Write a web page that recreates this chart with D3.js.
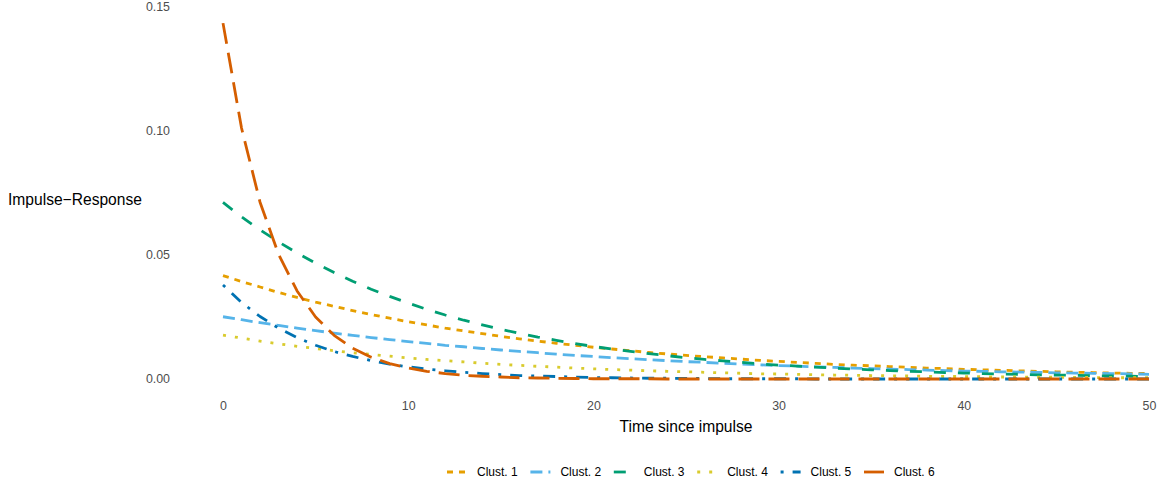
<!DOCTYPE html>
<html>
<head>
<meta charset="utf-8">
<script src="https://cdn.jsdelivr.net/npm/d3@7"></script>
<style>
  html, body { margin: 0; padding: 0; background: #ffffff; }
  svg { display: block; font-family: "Liberation Sans", Arial, Helvetica, sans-serif; }
</style>
</head>
<body>
<svg id="chart" width="1163" height="486"></svg>
<script>
// ---- data ----
const time = d3.range(0, 51);
const seriesNames = ["Clust. 1", "Clust. 2", "Clust. 3", "Clust. 4", "Clust. 5", "Clust. 6"];

const clust1 = [0.0417,0.0393,0.0371,0.0349,0.0329,0.0310,0.0293,0.0276,0.0260,0.0245,
  0.0231,0.0218,0.0205,0.0194,0.0183,0.0172,0.0162,0.0153,0.0144,0.0136,
  0.0128,0.0121,0.0114,0.0107,0.0101,0.0095,0.0090,0.0085,0.0080,0.0075,
  0.0071,0.0067,0.0063,0.0059,0.0056,0.0053,0.0050,0.0047,0.0044,0.0042,
  0.0039,0.0037,0.0035,0.0033,0.0031,0.0029,0.0027,0.0026,0.0024,0.0023,0.0022];
const clust2 = [0.0251,0.0239,0.0227,0.0216,0.0205,0.0195,0.0185,0.0176,0.0167,0.0159,
  0.0151,0.0144,0.0136,0.0130,0.0123,0.0117,0.0111,0.0106,0.0100,0.0095,
  0.0091,0.0086,0.0082,0.0078,0.0074,0.0070,0.0067,0.0063,0.0060,0.0057,
  0.0054,0.0052,0.0049,0.0047,0.0044,0.0042,0.0040,0.0038,0.0036,0.0034,
  0.0032,0.0031,0.0029,0.0028,0.0027,0.0025,0.0024,0.0023,0.0022,0.0021,0.0019];
const clust3 = [0.0712,0.0654,0.0601,0.0553,0.0508,0.0467,0.0429,0.0394,0.0362,0.0333,
  0.0306,0.0281,0.0258,0.0237,0.0218,0.0200,0.0184,0.0169,0.0156,0.0143,
  0.0131,0.0121,0.0111,0.0102,0.0094,0.0086,0.0079,0.0073,0.0067,0.0061,
  0.0056,0.0052,0.0048,0.0044,0.0040,0.0037,0.0034,0.0031,0.0029,0.0026,
  0.0024,0.0022,0.0020,0.0019,0.0017,0.0016,0.0015,0.0013,0.0012,0.0011,0.0010];
const clust4 = [0.0177,0.0165,0.0153,0.0142,0.0132,0.0123,0.0114,0.0106,0.0099,0.0092,
  0.0085,0.0079,0.0074,0.0069,0.0064,0.0059,0.0055,0.0051,0.0048,0.0044,
  0.0041,0.0038,0.0036,0.0033,0.0031,0.0029,0.0027,0.0025,0.0023,0.0021,
  0.0020,0.0019,0.0017,0.0016,0.0015,0.0014,0.0013,0.0012,0.0011,0.0010,
  0.0010,0.0009,0.0008,0.0008,0.0007,0.0007,0.0006,0.0006,0.0005,0.0005,0.0005];
const clust5 = [0.0379,0.0309,0.0252,0.0205,0.0167,0.0136,0.0111,0.0091,0.0074,0.0060,
  0.0049,0.0040,0.0033,0.0027,0.0022,0.0018,0.0014,0.0012,0.0010,0.0008,
  0.0006,0.0005,0.0004,0.0003,0.0003,0.0002,0.0002,0.0001,0.0001,0.0001,
  0.0001,0.0001,0.0000,0.0000,0.0000,0.0000,0.0000,0.0000,0.0000,0.0000,
  0.0000,0.0000,0.0000,0.0000,0.0000,0.0000,0.0000,0.0000,0.0000,0.0000,0.0000];
const clust6 = [0.1435,0.1012,0.0713,0.0503,0.0355,0.0250,0.0176,0.0124,0.0088,0.0062,
  0.0044,0.0031,0.0022,0.0015,0.0011,0.0008,0.0005,0.0004,0.0003,0.0002,
  0.0001,0.0001,0.0001,0.0001,0.0000,0.0000,0.0000,0.0000,0.0000,0.0000,
  0.0000,0.0000,0.0000,0.0000,0.0000,0.0000,0.0000,0.0000,0.0000,0.0000,
  0.0000,0.0000,0.0000,0.0000,0.0000,0.0000,0.0000,0.0000,0.0000,0.0000,0.0000];

const xTicks = [0, 10, 20, 30, 40, 50];
const yTicks = [0.00, 0.05, 0.10, 0.15];
const xTitle = "Time since impulse";
const yTitle = "Impulse\u2212Response";

// ---- styles ----
const colors = ["#E69F00", "#56B4E9", "#009E73", "#D9CB2E", "#0072B2", "#D55E00"];
const dashes = ["6,6", "12,6", "12,12", "3,9", "3,9,12,9", "21,9"];
const lineW = 2.8;

const allSeries = [clust1, clust2, clust3, clust4, clust5, clust6];

const svg = d3.select("#chart");

const x = d3.scaleLinear().domain([0, 50]).range([223, 1149]);
const y = d3.scaleLinear().domain([0, 0.15]).range([379, 7]);

// y axis tick labels
const yAxis = d3.axisLeft(y).tickValues(yTicks).tickFormat(d3.format(".2f")).tickSize(0).tickPadding(0);
const gy = svg.append("g").attr("transform", "translate(170,0)").call(yAxis);
gy.select(".domain").remove();
gy.selectAll("text").attr("fill", "#4D4D4D").style("font-size", "12.4px")
  .style("font-family", "'Liberation Sans', Arial, sans-serif");

// x axis tick labels
const xAxis = d3.axisBottom(x).tickValues(xTicks).tickFormat(d3.format("d")).tickSize(0).tickPadding(0);
const gx = svg.append("g").attr("transform", "translate(0,401)").call(xAxis);
gx.select(".domain").remove();
gx.selectAll("text").attr("fill", "#4D4D4D").style("font-size", "12.4px")
  .style("font-family", "'Liberation Sans', Arial, sans-serif");

// titles
svg.append("text").attr("x", (x(0) + x(50)) / 2).attr("y", 427).attr("dy", "0.35em")
  .attr("text-anchor", "middle").style("font-size", "15.6px").attr("fill", "#000").text(xTitle);
svg.append("text").attr("x", 8).attr("y", 200).attr("dy", "0.35em")
  .attr("text-anchor", "start").style("font-size", "15.6px").attr("fill", "#000").text(yTitle);

// lines
const line = d3.line().x((d, i) => x(time[i])).y(d => y(d));
allSeries.forEach((s, k) => {
  svg.append("path")
    .datum(s)
    .attr("d", line)
    .attr("fill", "none")
    .attr("stroke", colors[k])
    .attr("stroke-width", lineW)
    .attr("stroke-dasharray", dashes[k])
    .attr("stroke-linecap", "butt")
    .attr("stroke-linejoin", "round");
});

// legend
const legendStart = 447, legendStep = 83.4, legendY = 472, keyW = 20;
const lg = svg.append("g");
seriesNames.forEach((name, k) => {
  const lx = legendStart + k * legendStep;
  lg.append("line")
    .attr("x1", lx).attr("x2", lx + keyW).attr("y1", legendY).attr("y2", legendY)
    .attr("stroke", colors[k]).attr("stroke-width", lineW)
    .attr("stroke-dasharray", dashes[k]).attr("stroke-linecap", "butt");
  lg.append("text").attr("x", lx + 30).attr("y", legendY).attr("dy", "0.35em")
    .style("font-size", "12px").attr("fill", "#000").text(name);
});
</script>
</body>
</html>
